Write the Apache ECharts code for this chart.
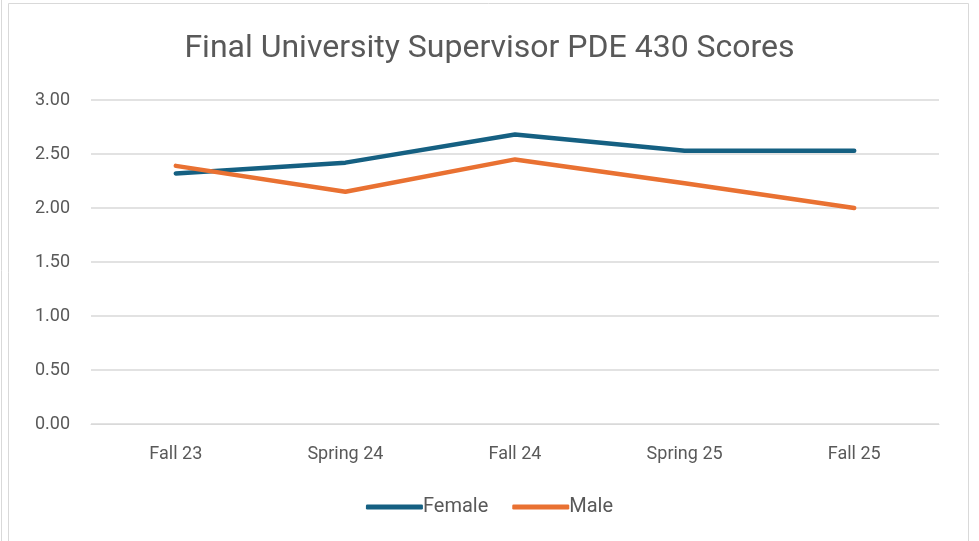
<!DOCTYPE html>
<html><head><meta charset="utf-8">
<script src="https://cdn.jsdelivr.net/npm/echarts@6/dist/echarts.min.js"></script>
<style>html,body{margin:0;padding:0;background:#fff}#c{width:979px;height:541px}</style>
</head><body><div id="c"></div>
<script>
const categories = ['Fall 23','Spring 24','Fall 24','Spring 25','Fall 25'];
const female = [2.32, 2.42, 2.68, 2.53, 2.53];
const male = [2.39, 2.15, 2.45, 2.23, 2.00];
const yTicks = [0, 0.5, 1, 1.5, 2, 2.5, 3];

const chart = echarts.init(document.getElementById('c'));
chart.setOption({
  animation: false,
  backgroundColor: '#fff',
  graphic: [{type:'rect', shape:{x:8.5,y:3.5,width:960,height:545}, style:{fill:'none', stroke:'#d9d9d9', lineWidth:1}},
            {type:'line', shape:{x1:1.5,y1:0,x2:1.5,y2:541}, style:{stroke:'#d9d9d9', lineWidth:1}}],
  title: {text:'Final University Supervisor PDE 430 Scores', left:'center', top:28,
    textStyle:{fontFamily:'Roboto, sans-serif', fontWeight:'normal', fontSize:32, color:'#595959'}},
  grid: {left:91, right:40, top:100, bottom:117},
  legend: {bottom:19, left:'center', itemWidth:57, itemHeight:5, itemGap:24,
    icon:'roundRect',
    textStyle:{fontFamily:'Roboto, sans-serif', fontSize:20, color:'#595959', padding:[0,0,0,-5]},
    data:['Female','Male']},
  xAxis: {type:'category', data:categories, boundaryGap:true,
    axisLine:{lineStyle:{color:'#d9d9d9'}}, axisTick:{show:false},
    axisLabel:{fontFamily:'Roboto, sans-serif', fontSize:18, color:'#595959', margin:21}},
  yAxis: {type:'value', min:yTicks[0], max:yTicks[yTicks.length-1], interval:0.5,
    axisLine:{show:false}, axisTick:{show:false},
    splitLine:{lineStyle:{color:'#d9d9d9', width:1.5}},
    axisLabel:{fontFamily:'Roboto, sans-serif', fontSize:18, color:'#595959', margin:21,
      formatter:v=>v.toFixed(2)}},
  series: [
    {name:'Female', type:'line', data:female, symbol:'none', lineStyle:{color:'#156082', width:4.5, cap:'round', join:'round'}, itemStyle:{color:'#156082'}},
    {name:'Male', type:'line', data:male, symbol:'none', lineStyle:{color:'#E97132', width:4.5, cap:'round', join:'round'}, itemStyle:{color:'#E97132'}}
  ]
});
</script></body></html>
